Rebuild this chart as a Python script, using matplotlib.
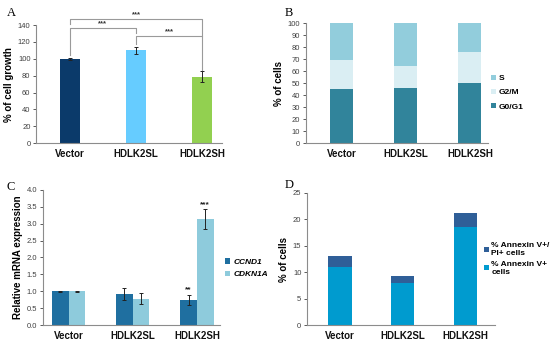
import matplotlib
matplotlib.use('Agg')
import matplotlib.pyplot as plt
import numpy as np

# shared categories
groups = ['Vector', 'HDLK2SL', 'HDLK2SH']

# A: cell growth
growth = [100, 110, 79]
growth_err = [1.5, 4.5, 6.5]
growth_colors = ['#0B3A6A', '#66CCFF', '#92D050']

# B: cell cycle phases
g0g1 = [45, 45.5, 50]
g2m = [24, 19, 26]
s_phase = [31, 35.5, 24]

# C: relative mRNA
ccnd1 = [1.0, 0.92, 0.75]
ccnd1_err = [0.01, 0.18, 0.15]
cdkn1a = [1.0, 0.78, 3.13]
cdkn1a_err = [0.01, 0.16, 0.30]

# D: apoptosis
annexin = [11, 8, 18.5]
annexin_pi = [2, 1.2, 2.8]

plt.rcParams['font.family'] = ['Liberation Sans', 'DejaVu Sans']
tick_col = '#404040'
spine_col = '#8c8c8c'

fig = plt.figure(figsize=(5.5, 3.44), dpi=100)


def style(ax, yticks, ylabel):
    for s in ['top', 'right']:
        ax.spines[s].set_visible(False)
    for s in ['left', 'bottom']:
        ax.spines[s].set_color(spine_col)
        ax.spines[s].set_linewidth(0.8)
    ax.set_yticks(yticks)
    ax.tick_params(axis='y', labelsize=5.5, colors=tick_col, length=2, width=0.6, pad=2)
    ax.tick_params(axis='x', length=0, pad=4)
    ax.set_xticks(range(len(groups)))
    ax.set_xticklabels(groups, fontsize=7, fontweight='bold', color='#111111')
    ax.set_ylabel(ylabel, fontsize=7, fontweight='bold', labelpad=3)


x = np.arange(len(groups))

# ---- A ----
axA = fig.add_axes([0.0655, 0.584, 0.338, 0.343])
axA.bar(x, growth, width=0.31, color=growth_colors)
axA.errorbar(x, growth, yerr=growth_err, fmt='none', ecolor='#222222',
             elinewidth=0.7, capsize=1.5, capthick=0.7)
axA.set_xlim(-0.513, 2.3)
axA.set_ylim(0, 140)
style(axA, range(0, 141, 20), '% of cell growth')

brackets = [
    ([0, 0, 2, 2], [141, 147, 147, 127], 1.0, 147),
    ([0, 0, 1, 1], [104, 136, 136, 131], 0.5, 136),
    ([1, 1, 2, 2], [118, 127, 127, 87], 1.5, 127),
]
for bx, by, sx, sy in brackets:
    axA.plot(bx, by, color='#9a9a9a', lw=0.8, clip_on=False)
    axA.text(sx, sy + 1, '***', ha='center', va='bottom', fontsize=5.5,
             fontweight='bold', color='#333333', clip_on=False)

# ---- B ----
axB = fig.add_axes([0.556, 0.584, 0.331, 0.349])
axB.bar(x, g0g1, width=0.36, color='#31849B', label='G0/G1')
axB.bar(x, g2m, width=0.36, bottom=g0g1, color='#DAEEF3', label='G2/M')
axB.bar(x, s_phase, width=0.36, bottom=np.add(g0g1, g2m), color='#92CDDC', label='S')
axB.set_xlim(-0.555, 2.28)
axB.set_ylim(0, 100)
style(axB, range(0, 101, 10), '% of cells')
h, l = axB.get_legend_handles_labels()
axB.legend(h[::-1], l[::-1], loc='center left', bbox_to_anchor=(0.975, 0.42),
           frameon=False, handlelength=0.6, handleheight=0.6,
           handletextpad=0.3, labelspacing=0.8, prop={'weight': 'bold', 'size': 6})

# ---- C ----
axC = fig.add_axes([0.078, 0.055, 0.322, 0.393])
bw = 0.26
axC.bar(x - bw / 2, ccnd1, width=bw, color='#1F6FA0', label='CCND1')
axC.bar(x + bw / 2, cdkn1a, width=bw, color='#8ECBDC', label='CDKN1A')
axC.errorbar(x - bw / 2, ccnd1, yerr=ccnd1_err, fmt='none', ecolor='#222222',
             elinewidth=0.7, capsize=1.5, capthick=0.7)
axC.errorbar(x + bw / 2, cdkn1a, yerr=cdkn1a_err, fmt='none', ecolor='#222222',
             elinewidth=0.7, capsize=1.5, capthick=0.7)
axC.set_xlim(-0.4, 2.36)
axC.set_ylim(0, 4.0)
style(axC, np.arange(0, 4.01, 0.5), 'Relative mRNA expression')
axC.set_yticklabels([f'{v:.1f}' for v in np.arange(0, 4.01, 0.5)])
axC.text(2 - bw / 2, ccnd1[2] + ccnd1_err[2] + 0.03, '**', ha='center', va='bottom',
         fontsize=6, fontweight='bold', color='#222222')
axC.text(2 + bw / 2, cdkn1a[2] + cdkn1a_err[2] + 0.03, '***', ha='center', va='bottom',
         fontsize=6, fontweight='bold', color='#222222')
axC.legend(loc='center left', bbox_to_anchor=(0.985, 0.42), frameon=False,
           handlelength=0.6, handleheight=0.6, handletextpad=0.4, labelspacing=0.6,
           prop={'weight': 'bold', 'style': 'italic', 'size': 6})

# ---- D ----
axD = fig.add_axes([0.558, 0.055, 0.342, 0.384])
axD.bar(x, annexin, width=0.37, color='#009BCF', label='% Annexin V+\ncells')
axD.bar(x, annexin_pi, width=0.37, bottom=annexin, color='#2F5F98',
        label='% Annexin V+/\nPI+ cells')
axD.set_xlim(-0.526, 2.47)
axD.set_ylim(0, 25)
style(axD, range(0, 26, 5), '% of cells')
h, l = axD.get_legend_handles_labels()
axD.legend(h[::-1], l[::-1], loc='center left', bbox_to_anchor=(0.9, 0.5),
           frameon=False, handlelength=0.6, handleheight=0.6, handletextpad=0.3,
           labelspacing=0.4, prop={'weight': 'bold', 'size': 6})

# panel letters
for lab, px, py in [('A', 0.012, 0.98), ('B', 0.517, 0.98),
                    ('C', 0.012, 0.475), ('D', 0.517, 0.48)]:
    fig.text(px, py, lab, fontsize=9, family='Liberation Serif', va='top')

fig.savefig('out.png', dpi=100)
